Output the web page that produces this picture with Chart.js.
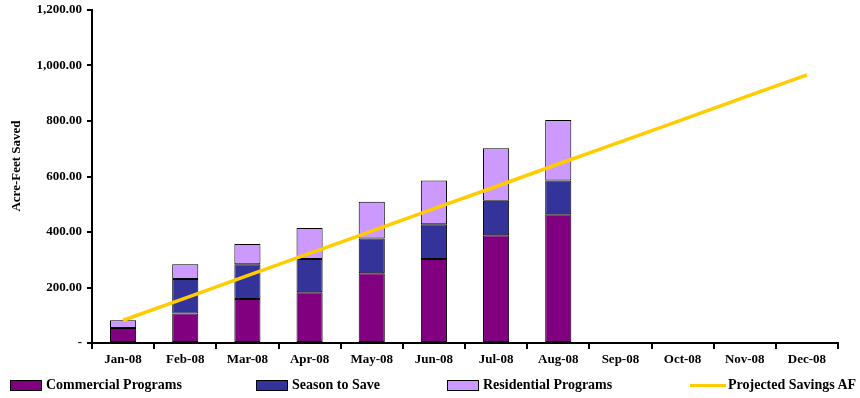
<!DOCTYPE html>
<html>
<head>
<meta charset="utf-8">
<script src="https://cdn.jsdelivr.net/npm/chart.js@4.4.1/dist/chart.umd.min.js"></script>
<style>
  html, body { margin: 0; padding: 0; background: #fff; }
  #wrap { position: relative; width: 860px; height: 398px; }
  #legend { position: absolute; left: 0; top: 377px; width: 860px; height: 20px;
    font: bold 14px "Liberation Serif", "Times New Roman", serif; color: #000; }
  .item { position: absolute; top: 0; display: flex; align-items: center; white-space: nowrap; }
  .swatch { width: 30px; height: 9px; border: 1px solid #000; margin-right: 4px; }
  .lineswatch { width: 36px; height: 3px; background: #ffcc00; margin-right: 2px; }
</style>
</head>
<body>
<div id="wrap">
  <canvas id="savingsChart" width="860" height="398"></canvas>
  <div id="legend"></div>
</div>
<script>
const months = ['Jan-08', 'Feb-08', 'Mar-08', 'Apr-08', 'May-08', 'Jun-08',
  'Jul-08', 'Aug-08', 'Sep-08', 'Oct-08', 'Nov-08', 'Dec-08'];
const commercial = [54, 106, 159, 183, 251, 303, 388, 464, null, null, null, null];
const seasonToSave = [null, 125, 125, 120, 126, 125, 125, 122, null, null, null, null];
const residential = [28, 53, 73, 111, 132, 158, 189, 218, null, null, null, null];
const projected = [82, 162, 243, 323, 403, 484, 564, 645, 725, 805, 886, 966];

const serif = '"Liberation Serif", "Times New Roman", serif';
const font = { family: serif, size: 13, weight: 'bold' };

function barSet(label, data, color) {
  return {
    type: 'bar', label, data, stack: 'saved',
    backgroundColor: color, borderColor: '#000', borderWidth: 1, borderSkipped: false,
    categoryPercentage: 1, barPercentage: 0.42, order: 2
  };
}

// vertical axis caption, placed by hand beside the tick labels
const yCaption = {
  id: 'yCaption',
  afterDraw(c) {
    const ctx = c.ctx;
    ctx.save();
    ctx.translate(17, 166);
    ctx.rotate(-Math.PI / 2);
    ctx.font = 'bold 13px ' + serif;
    ctx.fillStyle = '#000';
    ctx.textAlign = 'center';
    ctx.textBaseline = 'middle';
    ctx.fillText('Acre-Feet Saved', 0, 0);
    ctx.restore();
  }
};

const chart = new Chart(document.getElementById('savingsChart'), {
  data: {
    labels: months,
    datasets: [
      barSet('Commercial Programs', commercial, '#800080'),
      barSet('Season to Save', seasonToSave, '#333399'),
      barSet('Residential Programs', residential, '#cc99ff'),
      {
        type: 'line', label: 'Projected Savings AF', data: projected, stack: 'proj',
        borderColor: '#ffcc00', borderWidth: 3.5, pointRadius: 0, fill: false, tension: 0, order: 1
      }
    ]
  },
  plugins: [yCaption],
  options: {
    responsive: false,
    animation: false,
    layout: { padding: { left: 0, right: 22, top: 10, bottom: 0 } },
    plugins: { legend: { display: false }, tooltip: { enabled: false } },
    scales: {
      x: {
        stacked: true,
        offset: true,
        grid: { display: true, drawOnChartArea: false, offset: true, tickLength: 6, color: '#000', lineWidth: 2 },
        border: { color: '#000', width: 2 },
        ticks: { color: '#000', font, padding: 3, maxRotation: 0 },
        afterFit: s => { s.height = 55; s.paddingLeft = 0; s.paddingRight = 0; }
      },
      y: {
        stacked: true,
        min: 0, max: 1200,
        grid: { display: true, drawOnChartArea: false, tickLength: 5, color: '#000', lineWidth: 2 },
        border: { color: '#000', width: 2 },
        ticks: {
          stepSize: 200, color: '#000', font, padding: 5,
          callback: v => v === 0 ? '-' : v.toLocaleString('en-US', { minimumFractionDigits: 2, maximumFractionDigits: 2 })
        },
        afterFit: s => { s.width = 92; s.paddingTop = 0; s.paddingBottom = 0; }
      }
    }
  }
});

// legend laid out along the bottom edge
const legendItems = [
  { label: 'Commercial Programs', color: '#800080', left: 10 },
  { label: 'Season to Save', color: '#333399', left: 256 },
  { label: 'Residential Programs', color: '#cc99ff', left: 447 },
  { label: 'Projected Savings AF', line: true, left: 690 }
];
document.getElementById('legend').innerHTML = legendItems.map(it =>
  `<div class="item" style="left:${it.left}px">` +
  (it.line ? '<span class="lineswatch"></span>' : `<span class="swatch" style="background:${it.color}"></span>`) +
  `<span>${it.label}</span></div>`
).join('');
</script>
</body>
</html>
